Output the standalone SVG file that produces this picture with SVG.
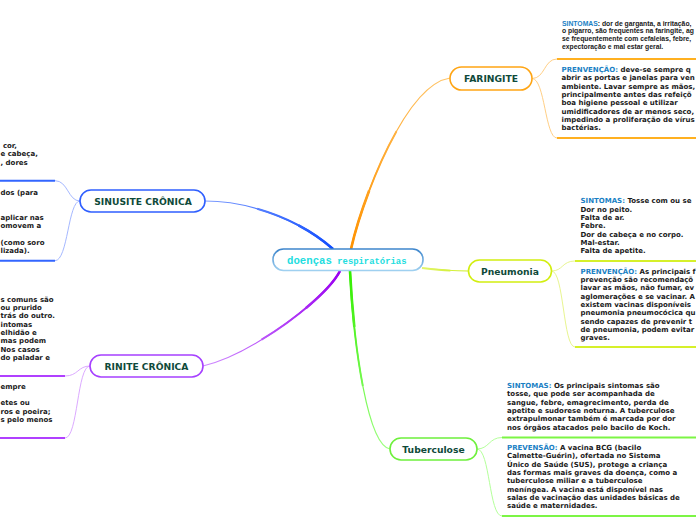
<svg xmlns="http://www.w3.org/2000/svg" width="696" height="520" viewBox="0 0 696 520">
<defs>
<style>
.node rect{fill:#fff;stroke-width:1.6}
.nt{font-family:"DejaVu Sans",Verdana,sans-serif;font-weight:bold;font-size:9.2px;fill:#0f4a3a;text-anchor:middle}
.bt{font-family:"DejaVu Sans",Verdana,sans-serif;font-weight:bold;font-size:7px;fill:#1a1a1a}
.st{font-family:"Liberation Sans",Arial,sans-serif;font-weight:bold;font-size:6.8px;fill:#1a1a1a}
.lb{fill:#1a7fc4}
.c{fill:none;stroke-linecap:butt}
.w3{stroke-width:1.2}
.w2{stroke-width:1.9;stroke-dasharray:62 200}
.w1{stroke-width:2.6;stroke-dasharray:30 200}
.sub{fill:none;stroke-width:1}
.ul{fill:none;stroke-width:2}
.ct{font-family:"Liberation Mono","DejaVu Sans Mono",monospace;font-weight:bold;fill:#22dde0}
</style>
<linearGradient id="gB" gradientUnits="userSpaceOnUse" x1="333" y1="249" x2="205" y2="201"><stop offset="0" stop-color="#0f4cff"/><stop offset="1" stop-color="#7f9dff"/></linearGradient>
<linearGradient id="gO" gradientUnits="userSpaceOnUse" x1="351" y1="249" x2="450" y2="78"><stop offset="0" stop-color="#ff9200"/><stop offset="1" stop-color="#ffc466"/></linearGradient>
<linearGradient id="gG" gradientUnits="userSpaceOnUse" x1="350" y1="273" x2="390" y2="449"><stop offset="0" stop-color="#33ee00"/><stop offset="1" stop-color="#9dff80"/></linearGradient>
<linearGradient id="gP" gradientUnits="userSpaceOnUse" x1="340" y1="273" x2="203" y2="366"><stop offset="0" stop-color="#9a00f0"/><stop offset="1" stop-color="#cf8cff"/></linearGradient>
<linearGradient id="gY" gradientUnits="userSpaceOnUse" x1="420" y1="268" x2="468" y2="271"><stop offset="0" stop-color="#e4f570"/><stop offset="1" stop-color="#ccee22"/></linearGradient>
<linearGradient id="gC" x1="0" y1="0" x2="0" y2="1"><stop offset="0" stop-color="#3d85cc"/><stop offset="1" stop-color="#9fd0f0"/></linearGradient>
<path id="pB" pathLength="100" d="M333,249 C300,220 250,201 205,201"/>
<path id="pO" pathLength="100" d="M351,249 C362,200 405,85 450,78"/>
<path id="pG" pathLength="100" d="M350,271 C354,350 368,445 390,449"/>
<path id="pP" pathLength="100" d="M340,271 C325,300 250,355 203,366"/>
<path id="pY" pathLength="100" d="M422,268 C440,270 450,271 468,271"/>
</defs>
<rect width="696" height="520" fill="#fff"/>

<g id="connectors">
<g stroke="url(#gB)"><use href="#pB" class="c w3"/><use href="#pB" class="c w2"/><use href="#pB" class="c w1"/></g>
<g stroke="url(#gO)"><use href="#pO" class="c w3"/><use href="#pO" class="c w2"/><use href="#pO" class="c w1"/></g>
<g stroke="url(#gG)"><use href="#pG" class="c w3"/><use href="#pG" class="c w2"/><use href="#pG" class="c w1"/></g>
<g stroke="url(#gP)"><use href="#pP" class="c w3"/><use href="#pP" class="c w2"/><use href="#pP" class="c w1"/></g>
<g stroke="url(#gY)"><use href="#pY" class="c w3"/><use href="#pY" class="c w2"/></g>
<path class="sub" stroke="#ffcf85" d="M532,78.5 C545,78.5 544,59 557,59"/>
<path class="sub" stroke="#ffcf85" d="M532,78.5 C545,78.5 545,138 557,138"/>
<path class="ul" stroke="#ffb020" d="M557,59 H697 M557,138 H697"/>
<path class="sub" stroke="#e8f590" d="M551.5,271 C563,271 562,261 575,261"/>
<path class="sub" stroke="#e8f590" d="M551.5,271 C564,271 563,347 575,347"/>
<path class="ul" stroke="#d6f02a" d="M575,261 H697 M575,347 H697"/>
<path class="sub" stroke="#b4ff9a" d="M477,449 C489,449 489,437.5 502,437.5"/>
<path class="sub" stroke="#b4ff9a" d="M477,449 C490,449 489,516 502,516"/>
<path class="ul" stroke="#7cf545" d="M502,437.5 H697 M502,516 H697"/>
<path class="sub" stroke="#a5b8ff" d="M80,201 C68,201 68,180.7 55,180.7"/>
<path class="sub" stroke="#a5b8ff" d="M80,201 C68,201 68,260.7 55,260.7"/>
<path class="ul" stroke="#3366ff" d="M55,180.7 H-1 M55,260.7 H-1"/>
<path class="sub" stroke="#dcaaff" d="M90,366 C78,366 78,376 65,376"/>
<path class="sub" stroke="#dcaaff" d="M90,366 C77,366 78,438 65,438"/>
<path class="ul" stroke="#b040ff" d="M65,376 H-1 M65,438 H-1"/>
</g>

<g id="center" class="node">
<rect x="273" y="249" width="150" height="21.5" rx="10.5" stroke="url(#gC)"/>
<text class="ct" x="287" y="263.5"><tspan font-size="10.7px">doenças</tspan><tspan font-size="8.9px"> respiratórias</tspan></text>
</g>

<g id="sinusite" class="node">
<rect x="80" y="190" width="125" height="22" rx="11" stroke="#2f5fff"/>
<text class="nt" x="143" y="204.6">SINUSITE CRÔNICA</text>
</g>
<g id="sinusite-1">
<text class="bt" x="2.9" y="148">cor,</text>
<text class="bt" x="0.5" y="156.3">e cabeça,</text>
<text class="bt" x="0.5" y="164.7">, dores</text>
</g>
<g id="sinusite-2">
<text class="bt" x="0.5" y="194.7">dos (para</text>
<text class="bt" x="0.5" y="219.7">aplicar nas</text>
<text class="bt" x="0.5" y="228">omovem a</text>
<text class="bt" x="0.5" y="244.7">(como soro</text>
<text class="bt" x="0.5" y="253">lizada).</text>
</g>

<g id="rinite" class="node">
<rect x="90" y="355" width="113" height="22" rx="11" stroke="#a640ff"/>
<text class="nt" x="146.5" y="369.6">RINITE CRÔNICA</text>
</g>
<g id="rinite-1">
<text class="bt" x="0.5" y="301.7">s comuns são</text>
<text class="bt" x="0.5" y="310">ou prurido</text>
<text class="bt" x="0.5" y="318.3">trás do outro.</text>
<text class="bt" x="0.5" y="326.7">intomas</text>
<text class="bt" x="0.5" y="335">elhidão e</text>
<text class="bt" x="0.5" y="343.3">mas podem</text>
<text class="bt" x="0.5" y="351.7">Nos casos</text>
<text class="bt" x="0.5" y="360">do paladar e</text>
</g>
<g id="rinite-2">
<text class="bt" x="0.5" y="388.7">empre</text>
<text class="bt" x="0.5" y="405.3">etes ou</text>
<text class="bt" x="0.5" y="413.7">ros e poeira;</text>
<text class="bt" x="0.5" y="422">s pelo menos</text>
</g>

<g id="faringite" class="node">
<rect x="450" y="67" width="82" height="23" rx="11.5" stroke="#ffa514"/>
<text class="nt" x="491" y="82">FARINGITE</text>
</g>
<g id="faringite-1">
<text class="st" x="562" y="25.5"><tspan class="lb">SINTOMAS</tspan>: dor de garganta, a irritação,</text>
<text class="st" x="562" y="33.3">o pigarro, são frequentes na faringite, ag</text>
<text class="st" x="562" y="41.1">se frequentemente com cefaleias, febre,</text>
<text class="st" x="562" y="48.9">expectoração e mal estar geral.</text>
</g>
<g id="faringite-2">
<text class="bt" x="561.5" y="72"><tspan class="lb">PRENVENÇÃO:</tspan> deve-se sempre q</text>
<text class="bt" x="561.5" y="80.3">abrir as portas e janelas para ven</text>
<text class="bt" x="561.5" y="88.7">ambiente. Lavar sempre as mãos,</text>
<text class="bt" x="561.5" y="97">principalmente antes das refeiçõ</text>
<text class="bt" x="561.5" y="105.3">boa higiene pessoal e utilizar</text>
<text class="bt" x="561.5" y="113.7">umidificadores de ar menos seco,</text>
<text class="bt" x="561.5" y="122">impedindo a proliferação de vírus</text>
<text class="bt" x="561.5" y="130.3">bactérias.</text>
</g>

<g id="pneumonia" class="node">
<rect x="468.5" y="260" width="83" height="22" rx="11" stroke="#d2ee10"/>
<text class="nt" x="510" y="274.6">Pneumonia</text>
</g>
<g id="pneumonia-1">
<text class="bt" x="580.5" y="203.3"><tspan class="lb">SINTOMAS:</tspan> Tosse com ou se</text>
<text class="bt" x="580.5" y="211.7">Dor no peito.</text>
<text class="bt" x="580.5" y="220">Falta de ar.</text>
<text class="bt" x="580.5" y="228.3">Febre.</text>
<text class="bt" x="580.5" y="236.7">Dor de cabeça e no corpo.</text>
<text class="bt" x="580.5" y="245">Mal-estar.</text>
<text class="bt" x="580.5" y="253.3">Falta de apetite.</text>
</g>
<g id="pneumonia-2">
<text class="bt" x="580.5" y="273.7"><tspan class="lb">PRENVENÇÃO:</tspan> As principais f</text>
<text class="bt" x="580.5" y="282">prevenção são recomendaçõ</text>
<text class="bt" x="580.5" y="290.3">lavar as mãos, não fumar, ev</text>
<text class="bt" x="580.5" y="298.7">aglomerações e se vacinar. A</text>
<text class="bt" x="580.5" y="307">existem vacinas disponíveis</text>
<text class="bt" x="580.5" y="315.3">pneumonia pneumocócica qu</text>
<text class="bt" x="580.5" y="323.7">sendo capazes de prevenir t</text>
<text class="bt" x="580.5" y="332">de pneumonia, podem evitar</text>
<text class="bt" x="580.5" y="340.3">graves.</text>
</g>

<g id="tuberculose" class="node">
<rect x="390" y="438" width="87" height="22" rx="11" stroke="#6ef03c"/>
<text class="nt" x="433.5" y="452.6">Tuberculose</text>
</g>
<g id="tuberculose-1">
<text class="bt" x="507" y="388"><tspan class="lb">SINTOMAS:</tspan> Os principais sintomas são</text>
<text class="bt" x="507" y="396.3">tosse, que pode ser acompanhada de</text>
<text class="bt" x="507" y="404.6">sangue, febre, emagrecimento, perda de</text>
<text class="bt" x="507" y="413">apetite e sudorese noturna. A tuberculose</text>
<text class="bt" x="507" y="421.3">extrapulmonar também é marcada por dor</text>
<text class="bt" x="507" y="429.6">nos órgãos atacados pelo bacilo de Koch.</text>
</g>
<g id="tuberculose-2">
<text class="bt" x="507" y="450"><tspan class="lb">PREVENSÃO:</tspan> A vacina BCG (bacilo</text>
<text class="bt" x="507" y="458.3">Calmette-Guérin), ofertada no Sistema</text>
<text class="bt" x="507" y="466.7">Único de Saúde (SUS), protege a criança</text>
<text class="bt" x="507" y="475">das formas mais graves da doença, como a</text>
<text class="bt" x="507" y="483.3">tuberculose miliar e a tuberculose</text>
<text class="bt" x="507" y="491.7">meníngea. A vacina está disponível nas</text>
<text class="bt" x="507" y="500">salas de vacinação das unidades básicas de</text>
<text class="bt" x="507" y="508.3">saúde e maternidades.</text>
</g>
</svg>
